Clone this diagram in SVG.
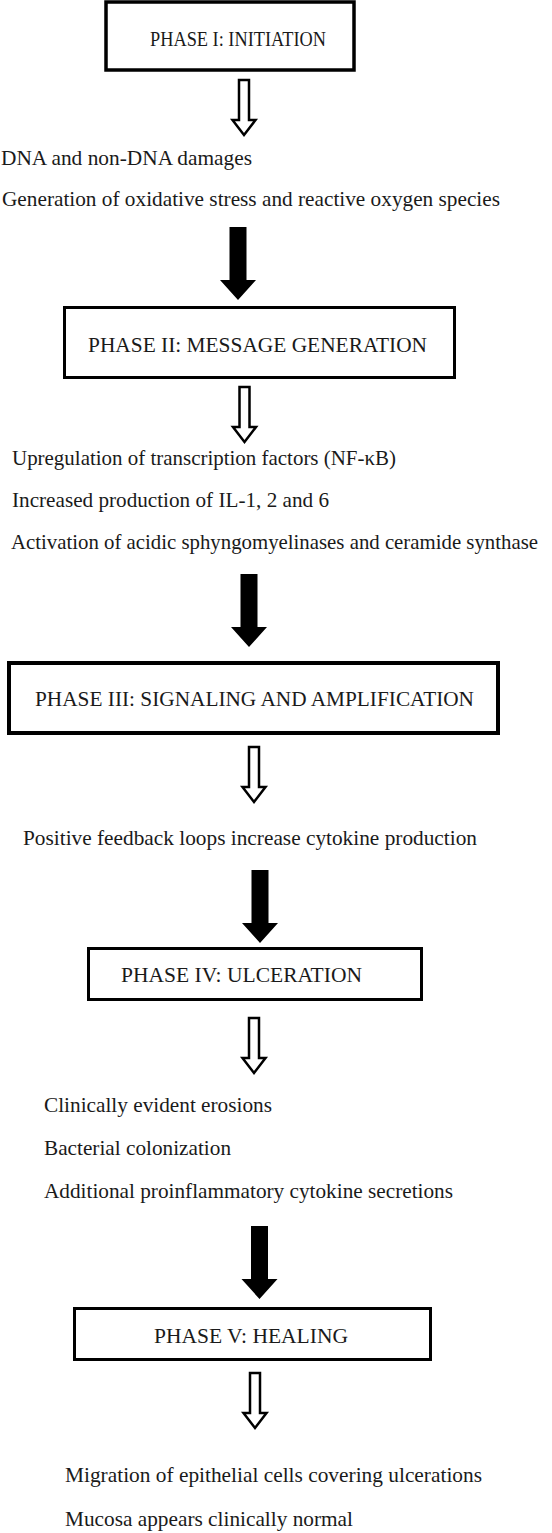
<svg xmlns="http://www.w3.org/2000/svg" width="552" height="1533" viewBox="0 0 552 1533">
<style>
.bg{fill:#ffffff}
.box{fill:#ffffff;stroke:#000000;stroke-width:3}
.t{font-family:"Liberation Serif","Times New Roman",serif;font-size:22px;fill:#1a1a1a}
.hollow{fill:#ffffff;stroke:#000000;stroke-width:2.5;stroke-linejoin:miter}
.solid{fill:#000000;stroke:none}
</style>
<defs>
<path id="hollowArrow" class="hollow" d="M -5 0 H 5 V 40 H 11.5 L 0 55 L -11.5 40 H -5 Z"/>
<path id="solidArrow" class="solid" d="M -8.5 0 H 8.5 V 53 H 18 L 0 73 L -18 53 H -8.5 Z"/>
</defs>
<rect class="bg" x="0" y="0" width="552" height="1533"/>

<g id="connectors">
<use href="#hollowArrow" x="244" y="80"/>
<use href="#solidArrow" x="238" y="227"/>
<use href="#hollowArrow" x="244.5" y="387"/>
<use href="#solidArrow" x="249" y="574"/>
<use href="#hollowArrow" x="254" y="747"/>
<use href="#solidArrow" x="260" y="870"/>
<use href="#hollowArrow" x="254" y="1018"/>
<use href="#solidArrow" x="259.5" y="1226"/>
<use href="#hollowArrow" x="255" y="1373"/>
</g>

<g id="phase1">
<rect class="box" x="106" y="2" width="248" height="68" style="stroke-width:3.5"/>
<text class="t" x="150" y="46" textLength="176" lengthAdjust="spacingAndGlyphs">PHASE I: INITIATION</text>
</g>

<g id="phase1-effects">
<text class="t" x="1" y="165" textLength="251" lengthAdjust="spacingAndGlyphs">DNA and non-DNA damages</text>
<text class="t" x="2" y="206" textLength="498" lengthAdjust="spacingAndGlyphs">Generation of oxidative stress and reactive oxygen species</text>
</g>

<g id="phase2">
<rect class="box" x="64.5" y="307.5" width="390" height="70"/>
<text class="t" x="88" y="352" textLength="339" lengthAdjust="spacingAndGlyphs">PHASE II: MESSAGE GENERATION</text>
</g>

<g id="phase2-effects">
<text class="t" x="12" y="465" textLength="384" lengthAdjust="spacingAndGlyphs">Upregulation of transcription factors (NF-κB)</text>
<text class="t" x="12" y="507" textLength="317" lengthAdjust="spacingAndGlyphs">Increased production of IL-1, 2 and 6</text>
<text class="t" x="11" y="549" textLength="527" lengthAdjust="spacingAndGlyphs" style="font-size:21px">Activation of acidic sphyngomyelinases and ceramide synthase</text>
</g>

<g id="phase3">
<rect class="box" x="9" y="663" width="489" height="70" style="stroke-width:4"/>
<text class="t" x="35" y="706" textLength="439" lengthAdjust="spacingAndGlyphs">PHASE III: SIGNALING AND AMPLIFICATION</text>
</g>

<g id="phase3-effects">
<text class="t" x="23" y="845" textLength="454" lengthAdjust="spacingAndGlyphs">Positive feedback loops increase cytokine production</text>
</g>

<g id="phase4">
<rect class="box" x="88.5" y="948.5" width="333" height="51"/>
<text class="t" x="121" y="982" textLength="241" lengthAdjust="spacingAndGlyphs">PHASE IV: ULCERATION</text>
</g>

<g id="phase4-effects">
<text class="t" x="44" y="1112" textLength="228" lengthAdjust="spacingAndGlyphs">Clinically evident erosions</text>
<text class="t" x="44" y="1155" textLength="187" lengthAdjust="spacingAndGlyphs">Bacterial colonization</text>
<text class="t" x="44" y="1198" textLength="409" lengthAdjust="spacingAndGlyphs">Additional proinflammatory cytokine secretions</text>
</g>

<g id="phase5">
<rect class="box" x="74.5" y="1308.5" width="356" height="51"/>
<text class="t" x="154" y="1343" textLength="194" lengthAdjust="spacingAndGlyphs">PHASE V: HEALING</text>
</g>

<g id="phase5-effects">
<text class="t" x="65" y="1482" textLength="417" lengthAdjust="spacingAndGlyphs">Migration of epithelial cells covering ulcerations</text>
<text class="t" x="65" y="1526" textLength="288" lengthAdjust="spacingAndGlyphs">Mucosa appears clinically normal</text>
</g>
</svg>
